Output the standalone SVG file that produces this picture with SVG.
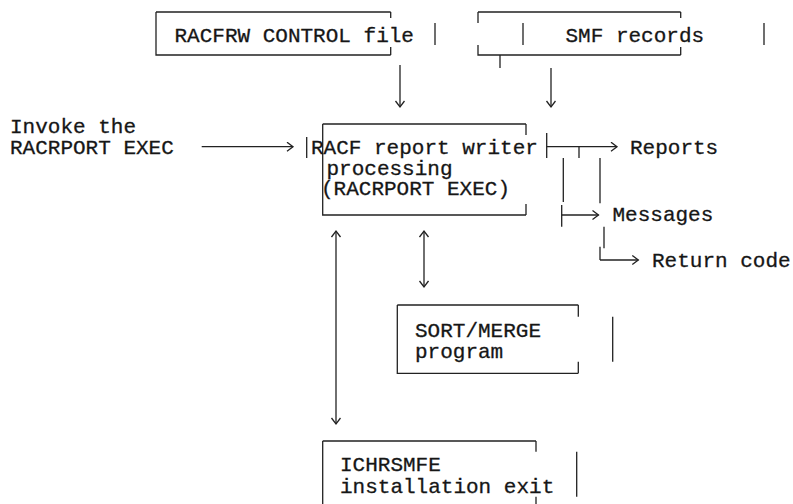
<svg xmlns="http://www.w3.org/2000/svg" width="793" height="504" viewBox="0 0 793 504">
<defs>
<style>
text{font-family:"Liberation Mono","DejaVu Sans Mono",monospace;font-size:21px;fill:#161616;stroke:#161616;stroke-width:0.3}
.ln{fill:none;stroke:#222;stroke-width:1.3}
</style>
<marker id="ah" markerWidth="10" markerHeight="12" refX="7" refY="5" orient="auto-start-reverse" markerUnits="userSpaceOnUse"><path d="M1,0.5 L7,5 L1,9.5" fill="none" stroke="#222" stroke-width="1.3"/></marker>
</defs>
<rect width="793" height="504" fill="#fff"/>

<g id="control-file">
<path class="ln" d="M156,12 H390.7 M156,12 V55 H390.7 M390.7,12 V18 M390.7,47 V55 M435,23 V45"/>
<text x="174.5" y="41.5">RACFRW CONTROL file</text>
</g>

<g id="smf-records">
<path class="ln" d="M478,12 H680.7 M478,12 V23 M478,45 V55 H680.7 M680.7,12 V18 M680.7,47 V55 M523,23 V45 M764,23 V45 M500,55 V68"/>
<text x="565.5" y="41.5">SMF records</text>
</g>

<g id="invoke">
<text x="10" y="132.5">Invoke the</text>
<text x="10" y="154">RACRPORT EXEC</text>
</g>

<g id="report-writer">
<path class="ln" d="M322.7,124 H526 M322.7,124 V215 H526 M526,124 V135 M526,204 V215 M306.7,137 V158 M546.7,133 V158"/>
<text x="311" y="154">RACF report writer</text>
<text x="326.5" y="174.5">processing</text>
<text x="321" y="195">(RACRPORT EXEC)</text>
</g>

<g id="reports"><text x="630" y="154">Reports</text></g>
<g id="messages"><text x="612.5" y="221">Messages</text></g>
<g id="return-code"><text x="652" y="267">Return code</text></g>

<g id="sort-merge">
<path class="ln" d="M397.3,305 H578.3 M397.3,305 V373.3 H578.3 M578.3,305 V316.7 M578.3,361.7 V373.3 M612.7,316.7 V361.7"/>
<text x="415" y="336.5">SORT/MERGE</text>
<text x="415" y="358">program</text>
</g>

<g id="ichrsmfe">
<path class="ln" d="M322.7,441 H536 M322.7,441 V510 M536,441 V451.7 M536,496.7 V510 M576.7,451.7 V496.7"/>
<text x="340" y="470.5">ICHRSMFE</text>
<text x="340" y="493">installation exit</text>
</g>

<g id="connectors">
<path class="ln" d="M400,65 V107" marker-end="url(#ah)"/>
<path class="ln" d="M551,68 V107" marker-end="url(#ah)"/>
<path class="ln" d="M201.7,146.7 H293" marker-end="url(#ah)"/>
<path class="ln" d="M546.7,146.7 H617" marker-end="url(#ah)"/>
<path class="ln" d="M579,146.7 V158 M563.3,158 V202 M600,158 V203.3 M561.7,205 V226.7 M604,226.7 V248.3 M600,246.7 V260"/>
<path class="ln" d="M561.7,215 H598.5" marker-end="url(#ah)"/>
<path class="ln" d="M600,260 H638.3" marker-end="url(#ah)"/>
<path class="ln" d="M336,231 V424" marker-start="url(#ah)" marker-end="url(#ah)"/>
<path class="ln" d="M424,231 V287" marker-start="url(#ah)" marker-end="url(#ah)"/>
</g>
</svg>
